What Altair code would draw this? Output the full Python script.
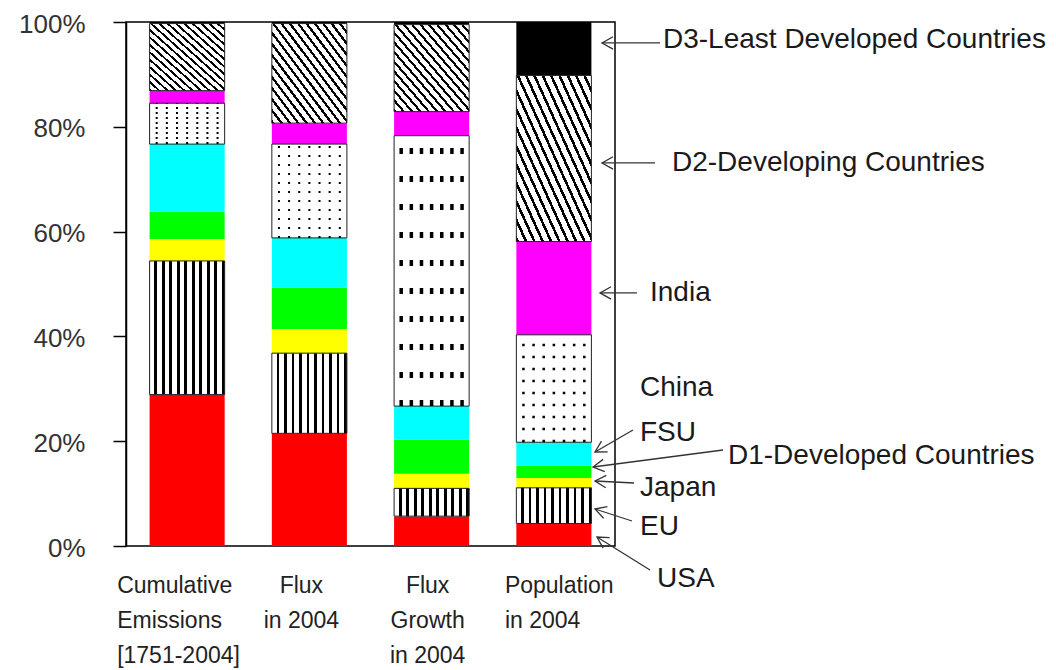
import altair as alt
import pandas as pd

# ---------------- data ----------------
measures = ["Cumulative Emissions [1751-2004]", "Flux in 2004",
            "Flux Growth in 2004", "Population in 2004"]
measure_text = ["Cumulative\nEmissions\n[1751-2004]", "Flux\nin 2004",
                "Flux\nGrowth\nin 2004", "Population\nin 2004"]
regions = ["USA", "EU", "Japan", "D1", "FSU", "China", "India", "D2", "D3"]

cumulative = [28.9, 25.5, 4.2, 5.2, 12.9, 7.8, 2.4, 12.8, 0.3]
flux = [21.5, 15.3, 4.6, 7.9, 9.5, 17.9, 4.0, 19.0, 0.3]
growth = [5.7, 5.3, 2.8, 6.5, 6.4, 51.6, 4.6, 16.6, 0.5]
population = [4.3, 6.8, 1.9, 2.3, 4.5, 20.5, 17.8, 31.7, 10.2]

ann_labels = ["D3-Least Developed Countries", "D2-Developing Countries", "India",
              "China", "FSU", "D1-Developed Countries", "Japan", "EU", "USA"]
ann_text_pct = [96.6, 73.1, 48.3, 30.15, 21.56, 17.18, 11.07, 3.63, -6.3]
ann_tip_pct = [96.0, 73.1, 48.3, None, 17.94, 15.08, 12.4, 7.06, 1.72]
ann_start_pct = [96.0, 73.1, 48.3, None, 22.14, 18.32, 12.02, 4.77, -4.58]

# ---------------- styles / layout ----------------
region_colors = ["#FF0000", "#FFFFFF", "#FFFF00", "#00FF00", "#00FFFF",
                 "#FFFFFF", "#FF00FF", "#FFFFFF", "#000000"]
FONT = "Liberation Sans, Arial, sans-serif"
PLOT_LEFT = 126
ann_text_x = [663, 672, 650, 640, 640, 728, 640, 640, 657]
ann_tip_x = [602, 602, 600, None, 595, 593, 595, 595, 597]
ann_start_x = [660, 655, 637, None, 633, 723, 634, 632, 650]
ann_angle = [0, 0, 0, None, 330, 352.5, 3, 18, 32]
label_align = ["left", "center", "center", "left"]
label_dx = [-70, -8, -4, -49]
dot_style = [([2, 3], 2), ([2, 7], 2), ([6, 22], 3.5), ([2.5, 9.5], 2.5)]


def stripes(n, frac_white, x1, y1, x2, y2):
    stops = []
    for i in range(n):
        a = i / n
        b = (i + frac_white) / n
        c = (i + 1) / n
        stops += [{"offset": a, "color": "#FFFFFF"}, {"offset": b, "color": "#FFFFFF"},
                  {"offset": b, "color": "#000000"}, {"offset": c, "color": "#000000"}]
    return {"gradient": "linear", "x1": x1, "y1": y1, "x2": x2, "y2": y2, "stops": stops}


vstripes = stripes(10, 0.64, 0, 0, 1, 0)
dstripes = stripes(18, 0.66, 1, 0, 0, 1)

rows = []
for m, vals in zip(measures, [cumulative, flux, growth, population]):
    for i, (r, v) in enumerate(zip(regions, vals)):
        rows.append({"measure": m, "region": r, "order": i, "value": v})
df = pd.DataFrame(rows)

lab_df = pd.DataFrame({"measure": measures, "text": measure_text})
ann_df = pd.DataFrame({"label": ann_labels, "tpos": ann_text_pct,
                       "tip": ann_tip_pct, "start": ann_start_pct})

# ---------------- encodings ----------------
x_enc = alt.X("measure:N", sort=measures,
              scale=alt.Scale(paddingInner=0.386, paddingOuter=0.193), axis=None)
y_scale = alt.Scale(domain=[0, 100], nice=False)
y_axis = alt.Axis(values=[0, 20, 40, 60, 80, 100], labelExpr="datum.value + '%'",
                  grid=False, tickSize=13, tickColor="black", tickWidth=1.5,
                  domainColor="black", domainWidth=1.5, labelPadding=28, labelOffset=2,
                  labelFont=FONT, labelFontSize=26, labelColor="#333333", title=None)


def Y(field):
    return alt.Y(field, scale=y_scale, axis=y_axis, title=None)


stacked = alt.Chart(df).transform_stack(
    stack="value", as_=["y0", "y1"], groupby=["measure"],
    sort=[alt.SortField("order", order="ascending")])

layers = []
layers.append(stacked.mark_bar(strokeWidth=0).encode(
    x=x_enc, y=Y("y0:Q"), y2="y1:Q",
    color=alt.Color("region:N", scale=alt.Scale(domain=regions, range=region_colors),
                    legend=None)))
layers.append(stacked.transform_filter(alt.datum.region == "EU").mark_bar(
    fill=vstripes, stroke="#222222", strokeWidth=1).encode(x=x_enc, y=Y("y0:Q"), y2="y1:Q"))
layers.append(stacked.transform_filter(alt.datum.region == "D2").mark_bar(
    fill=dstripes, stroke="#222222", strokeWidth=1).encode(x=x_enc, y=Y("y0:Q"), y2="y1:Q"))
layers.append(stacked.transform_filter(alt.datum.region == "China").mark_bar(
    fillOpacity=0, stroke="#222222", strokeWidth=1).encode(x=x_enc, y=Y("y0:Q"), y2="y1:Q"))

for m, (dash, w) in zip(measures, dot_style):
    layers.append(
        stacked.transform_filter((alt.datum.region == "China") & (alt.datum.measure == m))
        .transform_calculate(cols="sequence(7)")
        .transform_flatten(["cols"])
        .mark_rule(strokeDash=dash, strokeWidth=w, color="black")
        .encode(x=x_enc,
                xOffset=alt.XOffset("cols:O", scale=alt.Scale(paddingInner=0, paddingOuter=0.2)),
                y=Y("y0:Q"), y2="y1:Q"))

for m, al, dx in zip(measures, label_align, label_dx):
    layers.append(
        alt.Chart(lab_df).transform_filter(alt.datum.measure == m)
        .mark_text(align=al, dx=dx, baseline="top", font=FONT, fontSize=23,
                   lineHeight=35, lineBreak="\n", color="#222222")
        .encode(x=x_enc, y=alt.value(553), text="text:N"))

arrow_path = "M 1.6 -0.9 L 0 0 L 1.6 0.9"
for i, lab in enumerate(ann_labels):
    base = alt.Chart(ann_df).transform_filter(alt.datum.label == lab)
    layers.append(base.mark_text(align="left", baseline="middle", font=FONT,
                                 fontSize=28, color="#1a1a1a")
                  .encode(x=alt.value(ann_text_x[i] - PLOT_LEFT), y=Y("tpos:Q"), text="label:N"))
    if ann_tip_x[i] is not None:
        layers.append(base.mark_rule(color="#333333", strokeWidth=1.3)
                      .encode(x=alt.value(ann_tip_x[i] - PLOT_LEFT),
                              x2=alt.value(ann_start_x[i] - PLOT_LEFT),
                              y=Y("tip:Q"), y2="start:Q"))
        layers.append(base.mark_point(shape=arrow_path, filled=False, size=190,
                                      color="#333333", strokeWidth=1.3, opacity=1,
                                      angle=ann_angle[i])
                      .encode(x=alt.value(ann_tip_x[i] - PLOT_LEFT), y=Y("tip:Q")))

chart = alt.layer(*layers).properties(
    width=489, height=524,
    autosize=alt.AutoSizeParams(type="none"),
    padding={"left": 118, "top": 14, "right": 433, "bottom": 124},
).configure_view(stroke="black", strokeWidth=1.5)

chart.save("out.html", embed_options={"renderer": "svg", "actions": False})
